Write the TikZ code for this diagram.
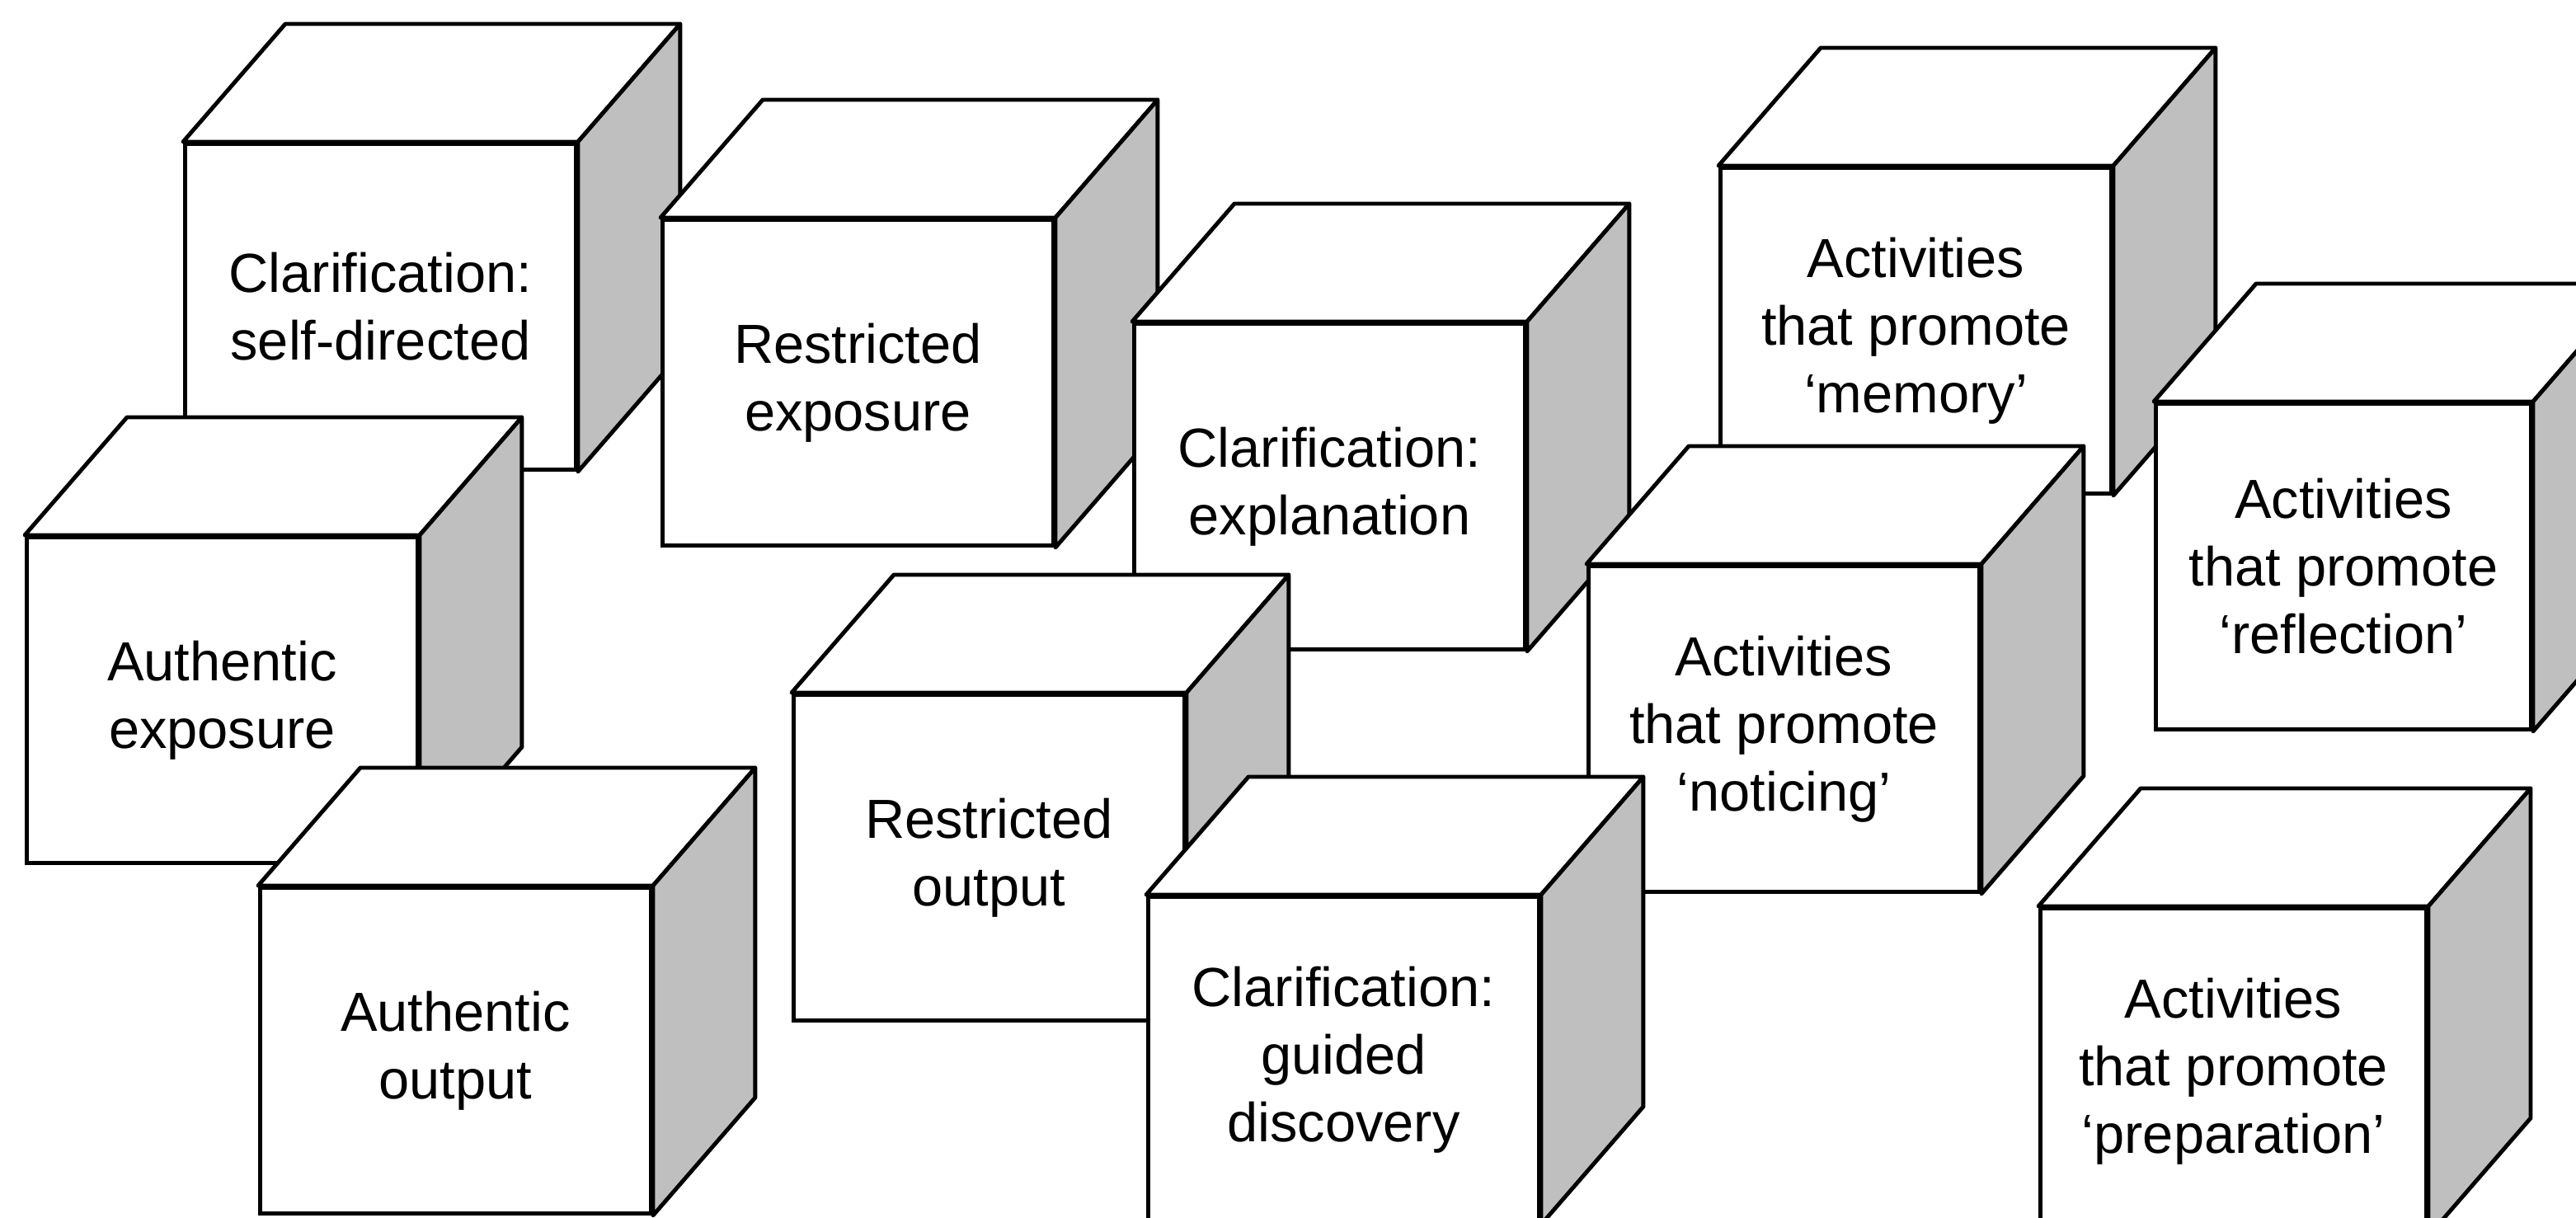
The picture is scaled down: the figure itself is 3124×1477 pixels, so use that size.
\documentclass[tikz,border=0pt]{standalone}
\usepackage{fontspec}
\setmainfont{Liberation Sans}
\usetikzlibrary{positioning}

\tikzset{
  cube/.style={rectangle, draw, fill=white, line width=1.4pt, anchor=north west,
    minimum width=47.4mm, minimum height=39.5mm, inner sep=0pt, align=center,
    font=\fontsize{19}{23.3}\selectfont},
  cubetop/.style={draw, fill=white, line width=1.4pt, line join=round},
  cubeside/.style={draw, fill=black!25, line width=1.4pt, line join=round}
}
% top and shaded side behind a front face
\newcommand{\cubesides}[1]{%
  \draw[cubetop] (#1.north west) -- ++(12.4mm,14.3mm)
    -- ([shift={(12.4mm,14.3mm)}]#1.north east) -- (#1.north east) -- cycle;
  \draw[cubeside] (#1.north east) -- ++(12.4mm,14.3mm)
    -- ([shift={(12.4mm,14.3mm)}]#1.south east) -- (#1.south east) -- cycle;
}

\begin{document}
\begin{tikzpicture}[x=0.1mm, y=-0.1mm]
    \useasboundingbox (0,0) rectangle (3124,1477);
    \clip (0,0) rectangle (3124,1477);

    \node (selfdir) [cube] at (222,172) {Clarification:\\self-directed};
    \cubesides{selfdir}
    \node (restexp) [cube] at (801,264) {Restricted\\exposure};
    \cubesides{restexp}
    \node (authexp) [cube] at (30,649) {Authentic\\exposure};
    \cubesides{authexp}
    \node (authout) [cube] at (313,1074) {Authentic\\output};
    \cubesides{authout}
    \node (explain) [cube] at (1373,390) {Clarification:\\explanation};
    \cubesides{explain}
    \node (memory) [cube] at (2084,201) {Activities\\that promote\\‘memory’};
    \cubesides{memory}
    \node (noticing) [cube] at (1924,684) {Activities\\that promote\\‘noticing’};
    \cubesides{noticing}
    \node (reflect) [cube, minimum width=45.5mm] at (2612,487) {Activities\\that promote\\‘reflection’};
    \cubesides{reflect}
    \node (restout) [cube] at (960,840) {Restricted\\output};
    \cubesides{restout}
    \node (guided) [cube] at (1390,1085) {Clarification:\\guided\\discovery};
    \cubesides{guided}
    \node (prep) [cube, minimum width=46.8mm] at (2472,1099) {Activities\\that promote\\‘preparation’};
    \cubesides{prep}
\end{tikzpicture}
\end{document}
